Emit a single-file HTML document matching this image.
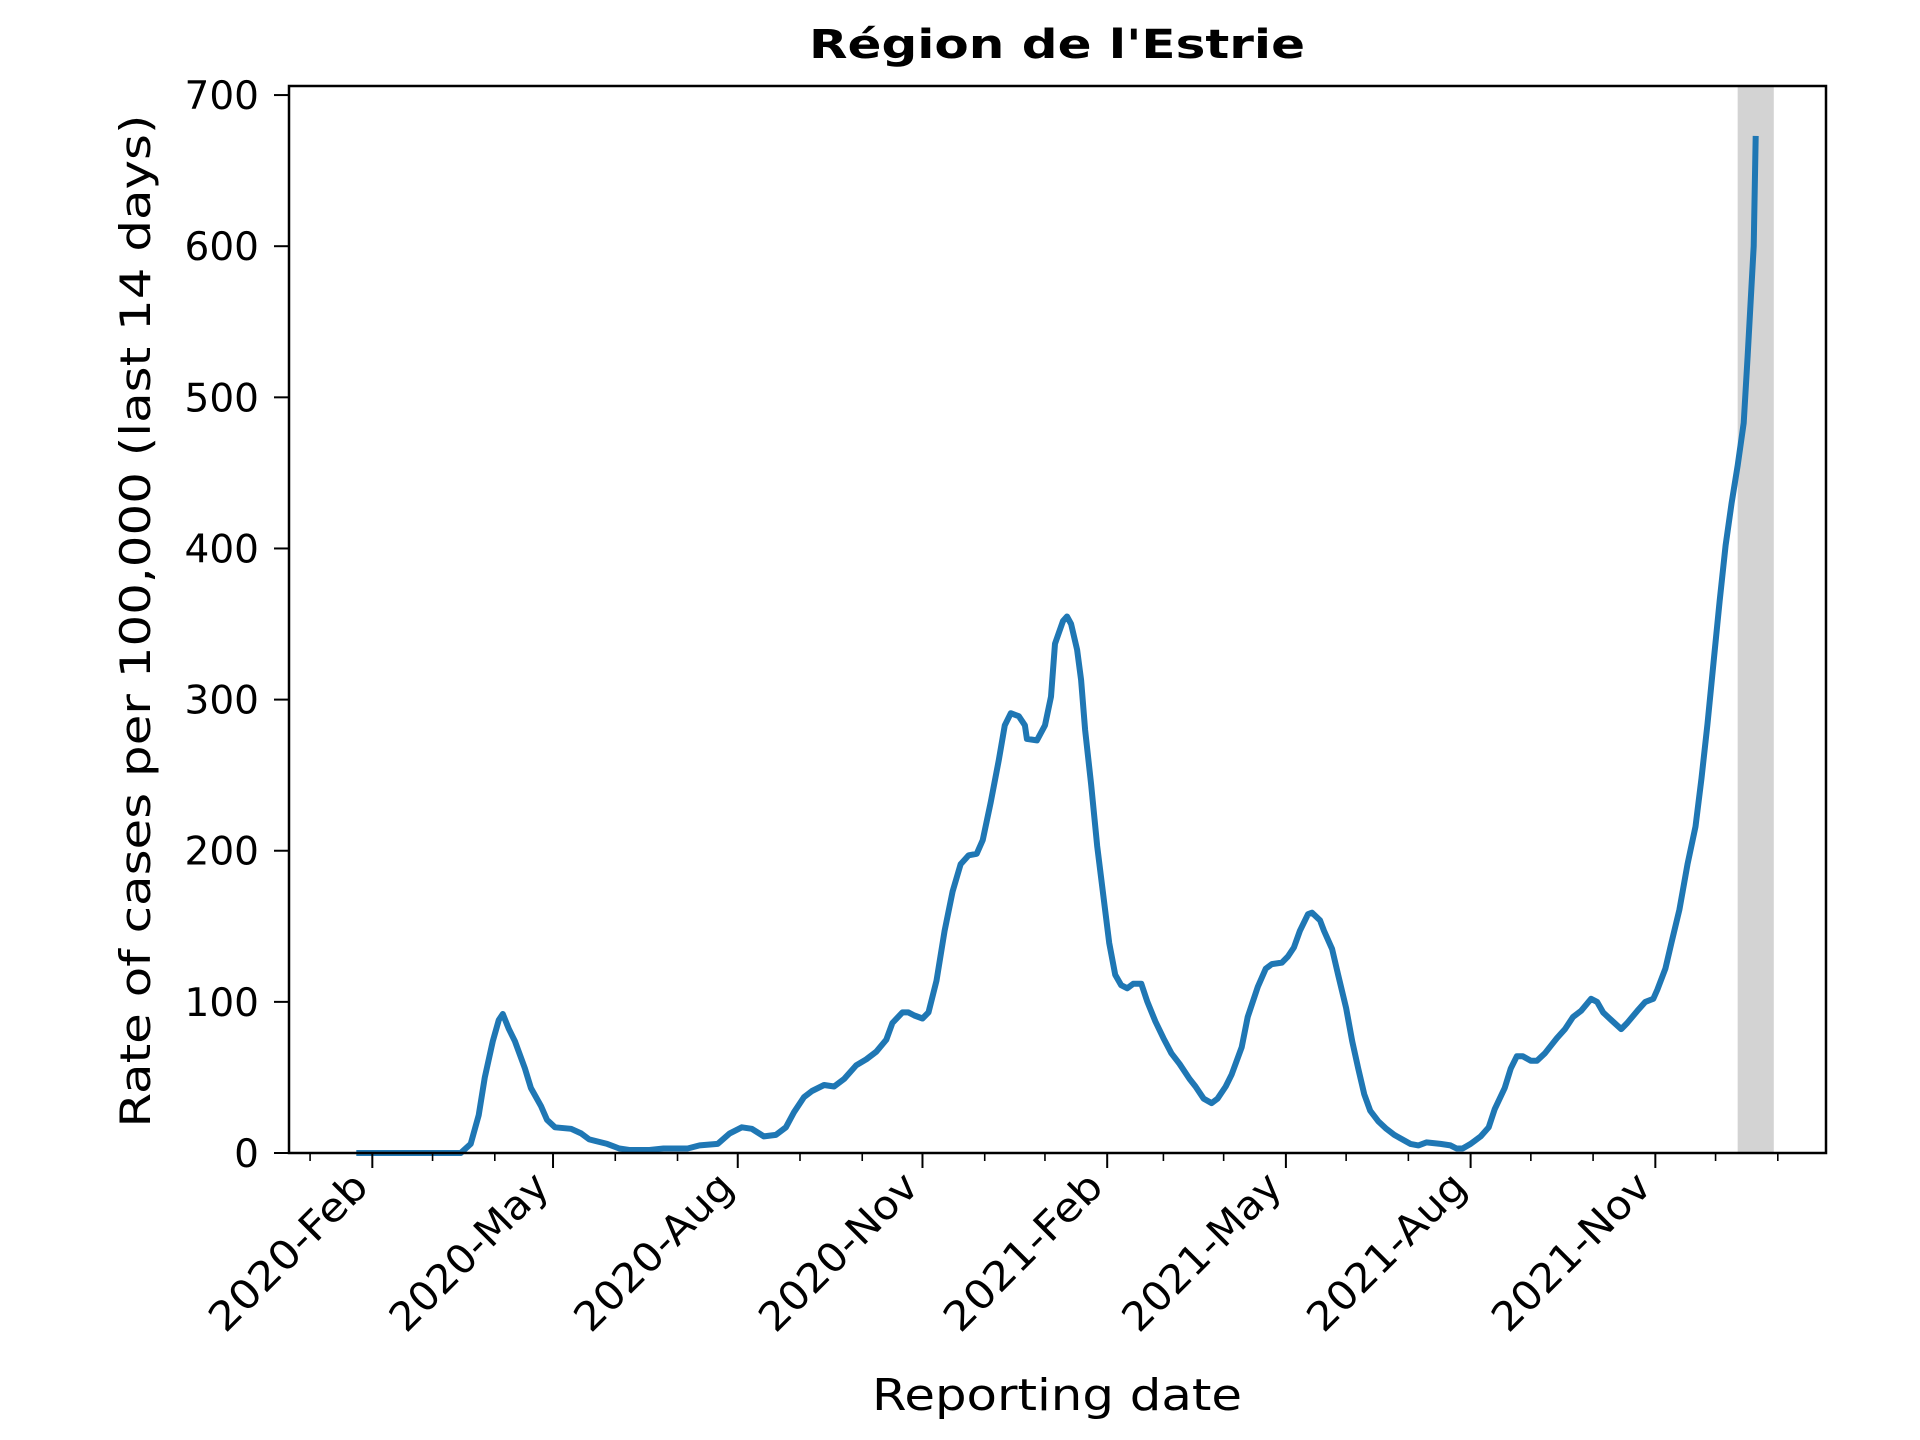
<!DOCTYPE html>
<html><head><meta charset="utf-8"><style>
html,body{margin:0;padding:0;background:#fff;}
svg{display:block;font-family:"DejaVu Sans","Liberation Sans",sans-serif;}
</style></head><body>
<svg id="chart" width="1920" height="1440" viewBox="0 0 1920 1440" xmlns="http://www.w3.org/2000/svg">
<rect width="1920" height="1440" fill="#fff"/>
<text x="1057" y="58" text-anchor="middle" font-size="40" font-weight="bold" textLength="496" lengthAdjust="spacingAndGlyphs">Région de l'Estrie</text>
<text transform="translate(150,621) rotate(-90)" text-anchor="middle" font-size="42" textLength="1013" lengthAdjust="spacingAndGlyphs">Rate of cases per 100,000 (last 14 days)</text>
<text x="1057" y="1410" text-anchor="middle" font-size="44" textLength="370" lengthAdjust="spacingAndGlyphs">Reporting date</text>
<g id="plot"></g>
</svg>
<script>
// days since 2020-02-01
const days = [-8,44,49,53,56,60,63,65,68,71,76,79,84,87,91,99,104,108,117,123,128,138,145,157,163,172,178,184,189,195,201,206,210,215,219,225,230,235,241,246,251,256,259,264,267,270,274,277,281,285,289,293,297,301,304,308,312,315,318,322,325,326,331,335,338,340,344,346,348,351,353,355,358,361,364,367,370,373,376,379,383,386,390,394,398,402,407,410,414,418,421,425,428,433,436,441,445,448,453,456,459,462,466,468,472,474,478,481,485,488,491,494,497,501,505,509,513,517,521,525,532,537,540,543,547,552,556,559,564,567,570,573,577,580,584,587,590,594,598,602,607,610,613,617,622,625,630,634,638,640,644,647,651,655,659,662,665,668,671,674,677,680,683,685,688,689];
const rates = [0,0,6,25,50,74,88,92,82,74,56,43,31,22,17,16,13,9,6,3,2,2,3,3,5,6,13,17,16,11,12,17,27,37,41,45,44,49,58,62,67,75,86,93,93,91,89,93,114,147,173,191,197,198,207,232,260,283,291,289,283,274,273,283,302,337,352,355,350,333,313,280,244,203,171,139,118,111,109,112,112,100,87,76,66,59,49,44,36,33,36,44,52,70,90,110,122,125,126,130,136,147,158,159,154,147,135,118,96,74,56,39,28,21,16,12,9,6,5,7,6,5,3,3,6,11,17,29,43,56,64,64,61,61,66,71,76,82,90,94,102,100,93,88,82,86,94,100,102,108,122,139,161,191,216,248,284,325,365,402,430,455,483,528,600,673];
const yTicks = [0,100,200,300,400,500,600,700];
const xTickDays = [0,90,182,274,366,455,547,639];
const xTickLabels = ["2020-Feb","2020-May","2020-Aug","2020-Nov","2021-Feb","2021-May","2021-Aug","2021-Nov"];
const minorDays = [-31,30,61,121,152,213,244,305,335,394,424,485,516,577,608,669,700];
const bandDays = [680,698];

const L=289,R=1826,T=86,B=1153;
const xMin=-41.5,xMax=724,yMin=0,yMax=706;
const xs=d=>L+(d-xMin)/(xMax-xMin)*(R-L);
const ys=v=>B-(v-yMin)/(yMax-yMin)*(B-T);
const NS="http://www.w3.org/2000/svg";
const g=document.getElementById('plot');
function mk(tag,attrs){const e=document.createElementNS(NS,tag);for(const k in attrs)e.setAttribute(k,attrs[k]);g.appendChild(e);return e;}

const band=mk('rect',{x:xs(bandDays[0]),y:T,width:xs(bandDays[1])-xs(bandDays[0]),height:B-T,fill:'#d3d3d3'});



let d='';
days.forEach((dd,i)=>{d+=(i?'L':'M')+xs(dd).toFixed(1)+','+ys(rates[i]).toFixed(1);});
const line=mk('path',{d:d,fill:'none',stroke:'#1f77b4','stroke-width':6,'stroke-linejoin':'round','stroke-linecap':'butt'});



const frame=mk('rect',{x:L,y:T,width:R-L,height:B-T,fill:'none',stroke:'#000','stroke-width':2.5});



yTicks.forEach(v=>{
  const t=mk('line',{x1:L-15,x2:L,y1:ys(v),y2:ys(v),stroke:'#000','stroke-width':2});
  
  
  const lb=mk('text',{x:L-30,y:ys(v)+14,'text-anchor':'end','font-size':39});
  lb.textContent=v;
  
  
});
xTickDays.forEach((dd,i)=>{
  const x=xs(dd);
  const t=mk('line',{x1:x,x2:x,y1:B,y2:B+15,stroke:'#000','stroke-width':2});
  
  
  const lb=mk('text',{transform:`translate(${x-2},${B+36}) rotate(-45)`,'text-anchor':'end','font-size':40,textLength:205,lengthAdjust:'spacingAndGlyphs'});
  lb.textContent=xTickLabels[i];
  
  
});
minorDays.forEach(dd=>{
  const x=xs(dd);
  const t=mk('line',{x1:x,x2:x,y1:B,y2:B+8,stroke:'#000','stroke-width':1.6});
  
  
});
</script>
</body></html>
